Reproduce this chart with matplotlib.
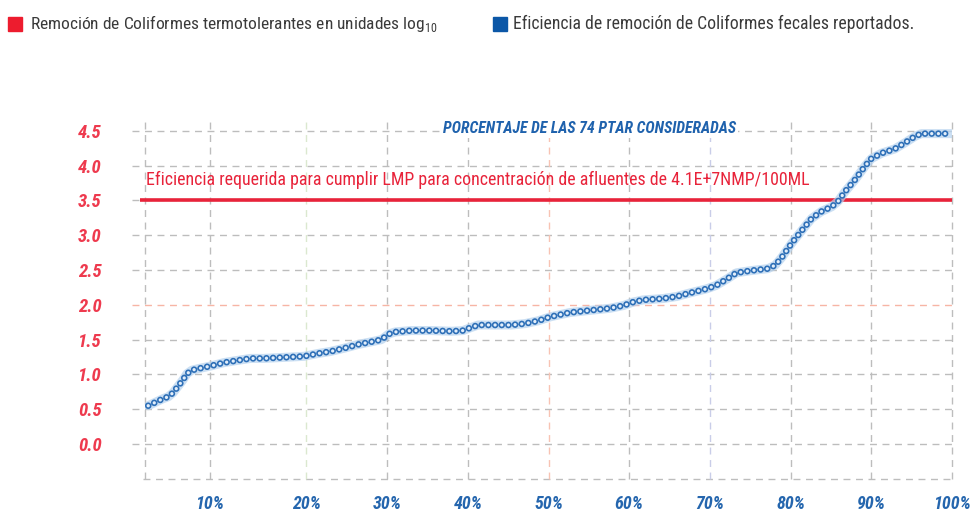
import matplotlib.pyplot as plt
from matplotlib.patches import Rectangle

# curve: percentage of plants vs log10 removal
pct = [0.4, 1.3, 2.2, 2.9, 3.5, 4.1, 4.7, 5.2, 5.8, 6.5, 7.3, 8.1, 9.8, 11.4,
       13.1, 14.7, 16.4, 18.1, 19.7, 21.4, 23.0, 24.8, 26.4, 28.1, 29.3, 30.2,
       31.0, 33.0, 35.5, 38.0, 39.4, 40.3, 41.3, 43.0, 45.4, 47.1, 48.7, 50.3,
       52.7, 55.1, 57.6, 59.3, 60.5, 61.7, 64.2, 65.9, 67.5, 69.6, 70.8, 72.1,
       73.3, 75.0, 77.2, 78.1, 78.9, 80.1, 81.4, 82.6, 83.8, 85.1, 85.9, 86.7,
       88.0, 89.2, 90.0, 91.3, 92.9, 94.2, 95.4, 96.2, 99.9]
removal = [0.55, 0.60, 0.65, 0.68, 0.74, 0.83, 0.92, 1.01, 1.06, 1.08, 1.10,
           1.12, 1.17, 1.20, 1.23, 1.23, 1.24, 1.25, 1.26, 1.30, 1.33, 1.38,
           1.43, 1.47, 1.50, 1.58, 1.61, 1.63, 1.63, 1.62, 1.63, 1.67, 1.71,
           1.71, 1.71, 1.73, 1.77, 1.83, 1.89, 1.92, 1.95, 1.99, 2.04, 2.07,
           2.09, 2.12, 2.17, 2.23, 2.28, 2.37, 2.46, 2.49, 2.52, 2.57, 2.68,
           2.88, 3.07, 3.24, 3.34, 3.41, 3.49, 3.62, 3.80, 3.99, 4.10, 4.18,
           4.24, 4.33, 4.42, 4.46, 4.46]

required = 3.5
y_ticks = [0.0, 0.5, 1.0, 1.5, 2.0, 2.5, 3.0, 3.5, 4.0, 4.5]
x_ticks = [8, 20, 30, 40, 50, 60, 70, 80, 90, 100]
x_labels = ['10%', '20%', '30%', '40%', '50%', '60%', '70%', '80%', '90%', '100%']

RED = '#e8233a'
BLUE = '#1f62ad'
GRID = '#bdbdbd'
NARROW = ['Roboto Condensed', 'Archivo Narrow', 'Liberation Sans', 'DejaVu Sans']

plt.rcParams['font.family'] = NARROW
plt.rcParams['mathtext.fontset'] = 'custom'
plt.rcParams['mathtext.rm'] = 'Roboto Condensed'
plt.rcParams['lines.scale_dashes'] = False

# 69.6 px per unit, 0.0 at y=444 px, -0.5 at the bottom edge
fig = plt.figure(figsize=(9.76, 5.13), dpi=100)
ax = fig.add_axes([145 / 976, (513 - 478.8) / 513, 807 / 976, 358.4 / 513])
ax.set_xlim(0, 100)
ax.set_ylim(-0.5, 4.65)
for s in ax.spines.values():
    s.set_visible(False)

# grid
dash = (0, (5, 4))
for y in [-0.5] + y_ticks:
    c = '#f7b5a5' if y == 2.0 else GRID
    ax.hlines(y, -1.6 if y >= 0 else -0.3, 100, colors=c, lw=1,
              linestyles=dash, clip_on=False, zorder=1)
vcol = {20: '#dbe8cf', 50: '#f8c3b3', 70: '#c9cde8'}
for x in [0] + x_ticks:
    ax.vlines(x, -0.5, 4.7, colors=vcol.get(x, GRID), lw=1,
              linestyles=dash, clip_on=False, zorder=1)

# requirement line
ax.hlines(required, -0.6, 100, colors=RED, lw=2.6, clip_on=False, zorder=3)
ax.text(0.1, 3.79, 'Eficiencia requerida para cumplir LMP para concentración '
        'de afluentes de 4.1E+7NMP/100ML', color=RED, fontsize=12.9,
        va='center', ha='left', zorder=4)

# curve: light halo, then a ring pattern along the path
ax.plot(pct, removal, color='#b5d2ee', lw=6.5, alpha=0.7,
        solid_capstyle='round', zorder=4)
ring = (0, (0.01, 4.8))
ax.plot(pct, removal, color='#2d6fb7', lw=4.8, linestyle=ring,
        dash_capstyle='round', zorder=5)
ax.plot(pct, removal, color='#e3eefa', lw=2.4, linestyle=ring,
        dash_capstyle='round', zorder=6)

ax.text(55.1, 4.54, 'PORCENTAJE DE LAS 74 PTAR CONSIDERADAS', color=BLUE,
        fontsize=11.3, fontweight='bold', style='italic', ha='center',
        va='center', zorder=7,
        bbox=dict(facecolor='white', edgecolor='none', pad=1.5))

ax.set_yticks(y_ticks)
ax.set_yticklabels([f'{v:.1f}' for v in y_ticks])
ax.set_xticks(x_ticks)
ax.set_xticklabels(x_labels)
ax.tick_params(axis='y', length=0, pad=31, labelcolor='#ee3a4e',
               labelsize=13.5)
ax.tick_params(axis='x', length=0, pad=12, labelcolor='#2566ae',
               labelsize=13)
for lab in ax.get_yticklabels() + ax.get_xticklabels():
    lab.set_fontweight('bold')
    lab.set_fontstyle('italic')

# legend
fig.patches.append(Rectangle((8 / 976, 1 - 31 / 513), 14 / 976, 14 / 513,
                             transform=fig.transFigure, color='#ed1c2e'))
fig.patches.append(Rectangle((493 / 976, 1 - 31 / 513), 14 / 976, 14 / 513,
                             transform=fig.transFigure, color='#0b57a7'))
fig.text(30 / 976, 1 - 24 / 513,
         r'Remoción de Coliformes termotolerantes en unidades log$_{10}$',
         color='#3a3a3a', fontsize=12.5, va='center', ha='left')
fig.text(513 / 976, 1 - 24 / 513,
         'Eficiencia de remoción de Coliformes fecales reportados.',
         color='#3a3a3a', fontsize=12.7, va='center', ha='left')

fig.savefig('out.png', dpi=100)
